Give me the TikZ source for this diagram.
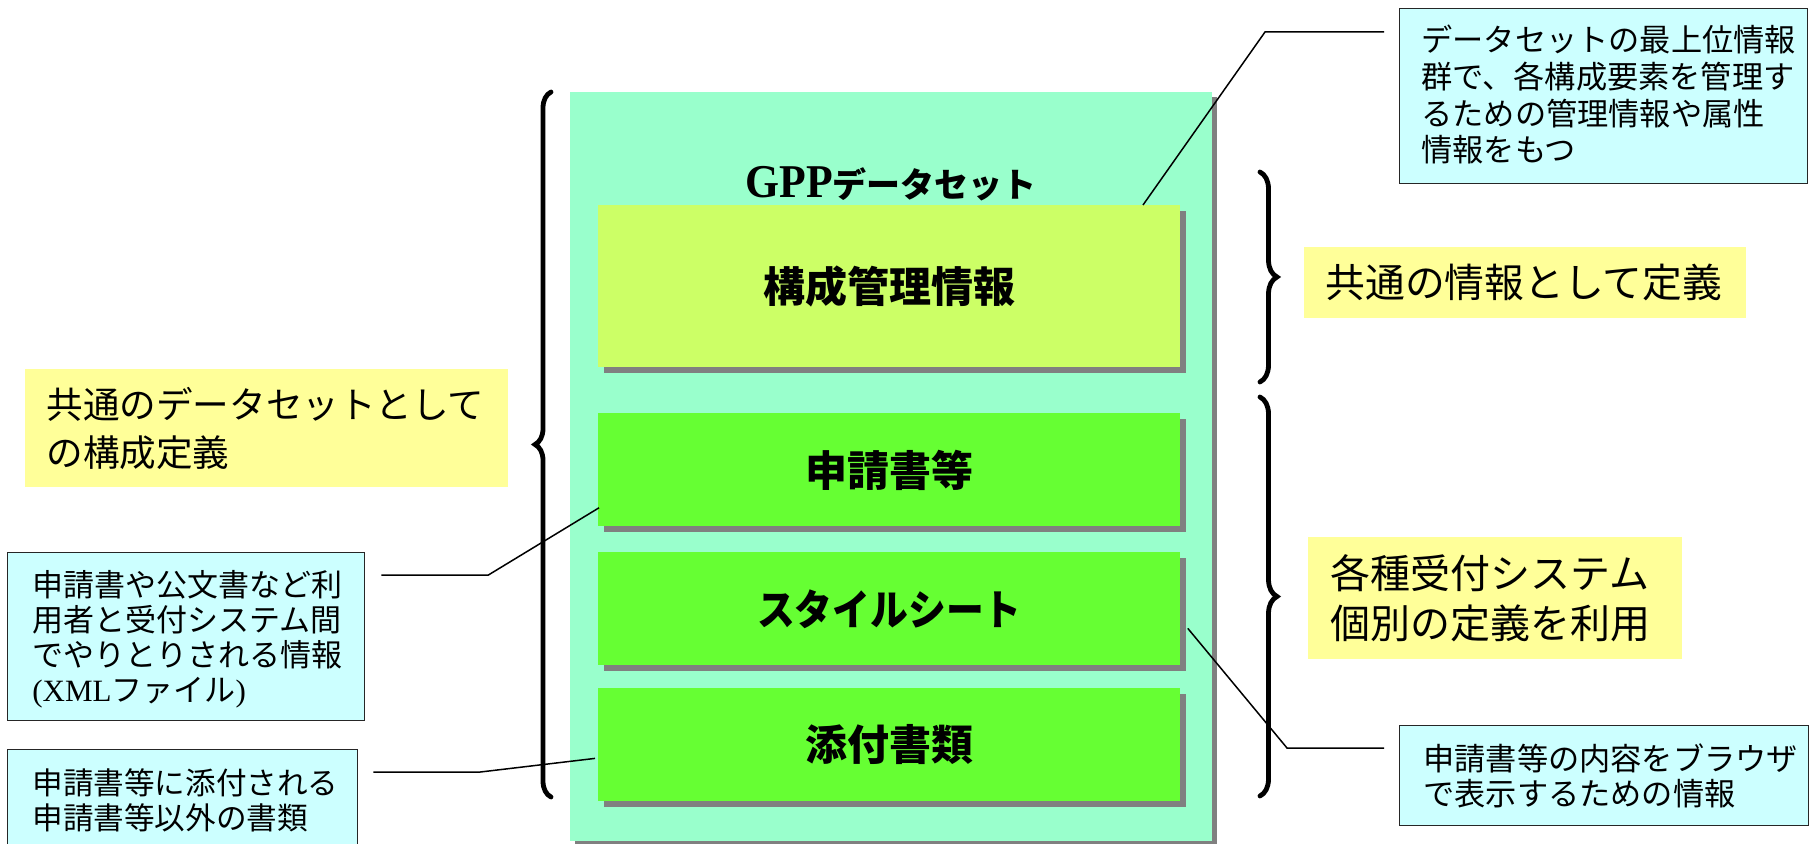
\documentclass[tikz,border=0pt]{standalone}
\usepackage{fontspec}
\setmainfont{Noto Sans CJK JP}
\newfontfamily\serifrm{Liberation Serif}
\usetikzlibrary{shadows,decorations.pathreplacing,calc}
\definecolor{tealbg}{HTML}{99FFCC}
\definecolor{koseic}{HTML}{CCFF66}
\definecolor{grn}{HTML}{66FF33}
\definecolor{yelc}{HTML}{FFFF99}
\definecolor{notec}{HTML}{CCFFFF}
\definecolor{shadowc}{HTML}{808080}
\tikzset{
  outerbox/.style={fill=tealbg, anchor=north west, inner sep=0pt,
    drop shadow={shadow xshift=2.5pt, shadow yshift=-2.5pt, opacity=1, fill=shadowc}},
  databox/.style={anchor=north west, inner sep=0pt, minimum width=291pt,
    font=\bfseries\fontsize{21pt}{25pt}\selectfont,
    drop shadow={shadow xshift=2.75pt, shadow yshift=-2.75pt, opacity=1, fill=shadowc}},
  notebox/.style={draw=black!85, line width=0.7pt, fill=notec, anchor=north west, inner sep=0pt},
  notetext/.style={anchor=north west, inner sep=0pt, align=left},
  yelbox/.style={fill=yelc, anchor=north west, inner ysep=0pt, align=left},
  brc/.style={decorate, decoration={brace, amplitude=#1}, line width=2.4pt, line cap=round},
  conn/.style={line width=0.75pt},
}
\begin{document}
\begin{tikzpicture}[x=0.5pt, y=-0.5pt]
\useasboundingbox (0,0) rectangle (1810,844);
\fill[white] (0,0) rectangle (1810,844);

% main container
\node[outerbox, minimum width=321pt, minimum height=374.5pt] (gpp) at (570,92) {};
\node[anchor=center, inner sep=0pt] (title) at (891,184)
  {\scalebox{0.93}[1]{\serifrm\bfseries\fontsize{23.5pt}{24pt}\selectfont GPP}{\bfseries\fontsize{17pt}{20pt}\selectfont データセット}};

\node[databox, fill=koseic, minimum height=81pt] (kosei) at (598,205) {構成管理情報};
\node[databox, fill=grn, minimum height=56.5pt] (shinsei) at (598,413) {申請書等};
\node[databox, fill=grn, minimum height=56.5pt] (style) at (598,552) {\scalebox{0.9}[1]{スタイルシート}};
\node[databox, fill=grn, minimum height=56.5pt] (tenpu) at (598,688) {添付書類};

% yellow labels
\node[yelbox, inner xsep=10.5pt, text width=220.5pt, minimum height=59pt,
  font=\fontsize{18.3pt}{24pt}\selectfont] (ylab1) at (25,369) {共通のデータセットとして\\の構成定義};
\node[yelbox, inner xsep=10.5pt, text width=200pt, minimum height=35.5pt,
  font=\fontsize{19.9pt}{24pt}\selectfont] (ylab2) at (1304,247) {共通の情報として定義};
\node[yelbox, inner xsep=11pt, text width=165pt, minimum height=61pt,
  font=\fontsize{20pt}{25pt}\selectfont] (ylab3) at (1308,537) {各種受付システム\\個別の定義を利用};

% cyan notes
\node[notebox, minimum width=204pt, minimum height=87.5pt] (tr) at (1399,8) {};
\node[notetext, font=\fontsize{15.6pt}{18.3pt}\selectfont] (trtext) at (1421,25)
  {データセットの最上位情報\\群で、各構成要素を管理す\\るための管理情報や属性\\情報をもつ};

\node[notebox, minimum width=178.5pt, minimum height=84pt] (lb1) at (7,552) {};
\node[notetext, font=\fontsize{15.5pt}{17.5pt}\selectfont] (lb1text) at (32,570)
  {申請書や公文書など利\\用者と受付システム間\\でやりとりされる情報\\{\serifrm (XML}ファイル{\serifrm )}};

\node[notebox, minimum width=175pt, minimum height=55pt] (lb2) at (7,749) {};
\node[notetext, font=\fontsize{15.3pt}{17.5pt}\selectfont] (lb2text) at (32,768)
  {申請書等に添付される\\申請書等以外の書類};

\node[notebox, minimum width=204.5pt, minimum height=50pt] (br) at (1399,725) {};
\node[notetext, font=\fontsize{15.6pt}{17.5pt}\selectfont] (brtext) at (1423,743)
  {申請書等の内容をブラウザ\\で表示するための情報};

% connectors
\coordinate (c1s) at ($(tr.north west)+(-7.5pt,-12pt)$);
\coordinate (c1m) at ($(c1s)+(-59.5pt,0pt)$);
\coordinate (c1e) at ($(kosei.north west)+(272.5pt,0pt)$);
\draw[conn] (c1s) -- (c1m) -- (c1e);

\coordinate (c2s) at ($(lb1.north east)+(8pt,-11.5pt)$);
\coordinate (c2m) at ($(c2s)+(53.5pt,0pt)$);
\coordinate (c2e) at ($(shinsei.south west)+(0.5pt,9.5pt)$);
\draw[conn] (c2s) -- (c2m) -- (c2e);

\coordinate (c3s) at ($(lb2.north east)+(7.5pt,-11.5pt)$);
\coordinate (c3m) at ($(c3s)+(53.5pt,0pt)$);
\coordinate (c3e) at ($(tenpu.west)+(-1.5pt,-6.75pt)$);
\draw[conn] (c3s) -- (c3m) -- (c3e);

\coordinate (c4s) at ($(style.east)+(3.5pt,-9.75pt)$);
\coordinate (c4e) at ($(br.north west)+(-7.5pt,-11.5pt)$);
\coordinate (c4m) at ($(c4e)+(-48.5pt,0pt)$);
\draw[conn] (c4s) -- (c4m) -- (c4e);

% braces
\coordinate (bl1) at (551,797);
\coordinate (bl2) at (551,92);
\draw[brc=8pt] (bl1) -- (bl2);
\coordinate (br1a) at (1260,172);
\coordinate (br1b) at (1260,382);
\draw[brc=8.5pt] (br1a) -- (br1b);
\coordinate (br2a) at (1260,397);
\coordinate (br2b) at (1260,796);
\draw[brc=8.5pt] (br2a) -- (br2b);
\end{tikzpicture}
\end{document}
